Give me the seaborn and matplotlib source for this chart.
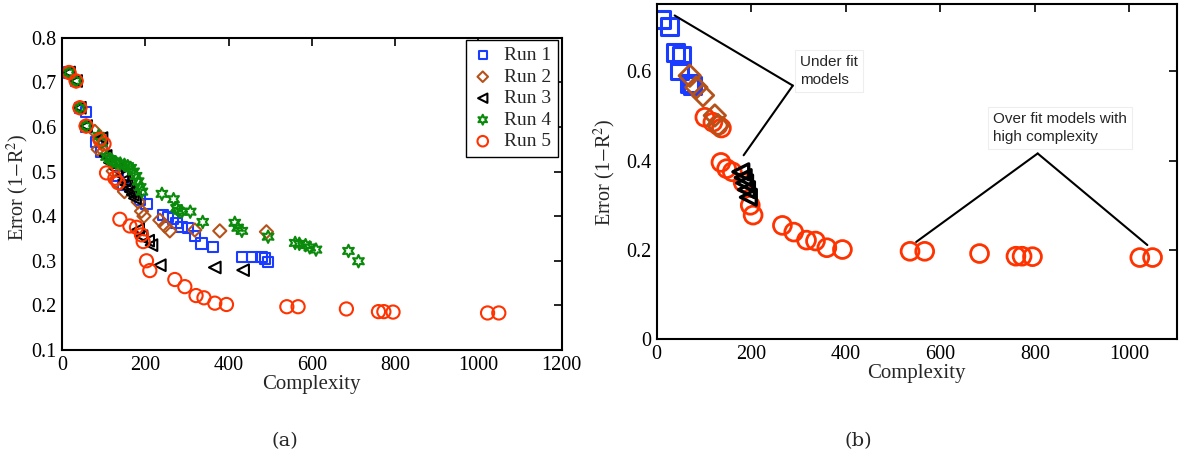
import numpy as np
import pandas as pd
import matplotlib
matplotlib.use("Agg")
import matplotlib.pyplot as plt
import seaborn as sns
from matplotlib.ticker import FormatStrFormatter, FuncFormatter

sns.set_theme(style="white")
plt.rcParams['font.family'] = ['Liberation Serif', 'DejaVu Serif']
plt.rcParams['mathtext.fontset'] = 'stix'

# ---------------- data: panel (a) ----------------
run1_x = [17, 34, 43, 58, 57, 83, 95, 135, 147, 187, 203, 243, 255, 267, 275, 287, 303, 319, 335, 363, 433, 457, 479, 487, 495]
run1_y = [0.722, 0.703, 0.643, 0.634, 0.600, 0.567, 0.545, 0.49, 0.47, 0.436, 0.427, 0.402, 0.398, 0.395, 0.385,
          0.376, 0.373, 0.356, 0.339, 0.331, 0.309, 0.309, 0.309, 0.305, 0.298]

run2_x = [17, 34, 43, 58, 79, 87, 91, 100, 123, 130, 150, 183, 191, 197, 235, 247, 259, 319, 379, 491]
run2_y = [0.722, 0.703, 0.643, 0.602, 0.59, 0.55, 0.57, 0.546, 0.501, 0.479, 0.455, 0.432, 0.411, 0.40, 0.391,
          0.378, 0.367, 0.369, 0.367, 0.365]

run3_x = [17, 34, 43, 58, 95, 105, 115, 130, 145, 150, 155, 160, 165, 170, 175, 183, 191, 207, 215, 235, 367, 435]
run3_y = [0.722, 0.703, 0.643, 0.602, 0.575, 0.535, 0.52, 0.505, 0.49, 0.48, 0.47, 0.462, 0.455, 0.448, 0.44,
          0.37, 0.355, 0.345, 0.335, 0.29, 0.285, 0.279]

run4_x = [17, 34, 43, 58, 88, 95, 107, 115, 122, 130, 140, 150, 158, 165, 172, 178, 183, 188, 192, 240, 268, 275,
          280, 288, 308, 338, 415, 422, 432, 495, 560, 570, 585, 595, 610, 688, 712]
run4_y = [0.722, 0.703, 0.643, 0.602, 0.58, 0.565, 0.533, 0.528, 0.523, 0.52, 0.518, 0.515, 0.512, 0.508, 0.50,
          0.49, 0.478, 0.465, 0.455, 0.450, 0.438, 0.418, 0.412, 0.41, 0.41, 0.387, 0.385, 0.374, 0.367, 0.354,
          0.34, 0.338, 0.335, 0.33, 0.325, 0.322, 0.299]

run5_x = [17, 34, 43, 58, 91, 101, 107, 127, 135, 139, 163, 179, 191, 195, 203, 211, 271, 295, 322, 341, 367, 395,
          540, 567, 683, 760, 773, 795, 1022, 1049]
run5_y = [0.722, 0.703, 0.643, 0.602, 0.572, 0.562, 0.497, 0.485, 0.475, 0.393, 0.378, 0.375, 0.358, 0.343, 0.300,
          0.278, 0.258, 0.242, 0.222, 0.217, 0.205, 0.202, 0.197, 0.197, 0.192, 0.186, 0.186, 0.185, 0.183, 0.183]

run_labels = ["Run 1", "Run 2", "Run 3", "Run 4", "Run 5"]

# ---------------- data: panel (b) ----------------
b_blue_x = [11, 28, 39, 53, 49, 70, 76]
b_blue_y = [0.717, 0.700, 0.643, 0.635, 0.602, 0.573, 0.568]
b_brown_x = [70, 84, 98, 123, 130]
b_brown_y = [0.59, 0.564, 0.546, 0.501, 0.479]
b_black_x = [178, 183, 186, 190, 194]
b_black_y = [0.375, 0.362, 0.35, 0.335, 0.318]
b_red_x = [102, 119, 130, 137, 136, 148, 160, 183, 198, 204, 266, 290, 317, 336, 360, 393,
           536, 567, 683, 760, 773, 795, 1022, 1049]
b_red_y = [0.497, 0.486, 0.479, 0.473, 0.396, 0.382, 0.375, 0.351, 0.300, 0.278, 0.255, 0.240, 0.222, 0.220,
           0.205, 0.201, 0.197, 0.197, 0.192, 0.186, 0.186, 0.185, 0.183, 0.183]

xticks_a = [0, 200, 400, 600, 800, 1000, 1200]
yticks_a = [0.1, 0.2, 0.3, 0.4, 0.5, 0.6, 0.7, 0.8]
xticks_b = [0, 200, 400, 600, 800, 1000]
yticks_b = [0, 0.2, 0.4, 0.6]

# ---------------- styling ----------------
C_BLUE = '#1a3cff'
C_BROWN = '#b5521a'
C_BLACK = '#000000'
C_GREEN = '#0a8a0a'
C_RED = '#ff3300'
hexagram = (6, 1, 0)

fig = plt.figure(figsize=(11.87, 4.61), dpi=100)
axA = fig.add_axes([0.0522, 0.2408, 0.4210, 0.6774])
axB = fig.add_axes([0.5532, 0.2640, 0.4381, 0.7267])


def open_scatter(ax, x, y, marker, color, size, lw, label=None):
    sns.scatterplot(x=x, y=y, marker=marker, s=size, color=color, linewidth=lw, ax=ax, label=label, legend=False)
    coll = ax.collections[-1]
    coll.set_facecolor('none')
    coll.set_edgecolor(color)
    coll.set_linewidth(lw)
    return coll


runs = [
    (run1_x, run1_y, 's', C_BLUE, 55),
    (run2_x, run2_y, 'D', C_BROWN, 45),
    (run3_x, run3_y, '<', C_BLACK, 70),
    (run4_x, run4_y, hexagram, C_GREEN, 80),
    (run5_x, run5_y, 'o', C_RED, 90),
]
handles = []
for (x, y, m, c, s), lab in zip(runs, run_labels):
    h = open_scatter(axA, x, y, m, c, s, 1.5, label=lab)
    handles.append(h)

axA.set_xlim(0, 1200)
axA.set_ylim(0.1, 0.8)
axA.set_xticks(xticks_a)
axA.set_yticks(yticks_a)
axA.yaxis.set_major_formatter(FormatStrFormatter('%.1f'))
axA.set_xlabel('Complexity', fontsize=15, labelpad=0)
axA.set_ylabel(r'Error (1$-$R$^2$)', fontsize=14.5, labelpad=2)
axA.yaxis.set_label_coords(-0.062, 0.52)
leg = axA.legend(handles=handles, labels=run_labels, loc='upper right', bbox_to_anchor=(0.993, 0.993),
                 borderaxespad=0, fontsize=14, frameon=True, fancybox=False, framealpha=1,
                 edgecolor='black', handlelength=1.0, handletextpad=0.6, labelspacing=0.2,
                 borderpad=0.35, scatterpoints=1, markerscale=0.8)
leg.get_frame().set_linewidth(1.0)

# panel (b)
open_scatter(axB, b_red_x, b_red_y, 'o', C_RED, 165, 2.0)
open_scatter(axB, b_black_x, b_black_y, '<', C_BLACK, 130, 2.4)
open_scatter(axB, b_blue_x, b_blue_y, 's', C_BLUE, 150, 2.2)
open_scatter(axB, b_brown_x, b_brown_y, 'D', C_BROWN, 120, 2.0)

axB.set_xlim(0, 1100)
axB.set_ylim(0, 0.75)
axB.set_xticks(xticks_b)
axB.set_yticks(yticks_b)
axB.yaxis.set_major_formatter(FuncFormatter(lambda v, p: '0' if v == 0 else f'{v:.1f}'))
axB.set_xlabel('Complexity', fontsize=15, labelpad=0)
axB.set_ylabel(r'Error (1$-$R$^2$)', fontsize=14.5, labelpad=2)
axB.yaxis.set_label_coords(-0.075, 0.5)

sans = ['Liberation Sans', 'DejaVu Sans']
apex1 = (288, 0.568)
axB.annotate('', xy=(38, 0.725), xytext=apex1, arrowprops=dict(arrowstyle='-', lw=1.5, color='black',
                                                                 shrinkA=0, shrinkB=0))
axB.annotate('', xy=(184, 0.412), xytext=apex1, arrowprops=dict(arrowstyle='-', lw=1.5, color='black',
                                                                  shrinkA=0, shrinkB=0))
axB.text(303, 0.636, 'Under fit\nmodels', ha='left', va='top', fontsize=11, family=sans,
         linespacing=1.3, bbox=dict(boxstyle='square,pad=0.35', fc='white', ec='#eeeeee', lw=0.8))

apex2 = (806, 0.416)
axB.annotate('', xy=(549, 0.218), xytext=apex2, arrowprops=dict(arrowstyle='-', lw=1.5, color='black',
                                                                  shrinkA=0, shrinkB=0))
axB.annotate('', xy=(1038, 0.211), xytext=apex2, arrowprops=dict(arrowstyle='-', lw=1.5, color='black',
                                                                   shrinkA=0, shrinkB=0))
axB.text(712, 0.508, 'Over fit models with\nhigh complexity', ha='left', va='top', fontsize=11, family=sans,
         linespacing=1.3, bbox=dict(boxstyle='square,pad=0.35', fc='white', ec='#eeeeee', lw=0.8))

for ax in (axA, axB):
    for sp in ax.spines.values():
        sp.set_visible(True)
        sp.set_color('black')
        sp.set_linewidth(1.5)
    ax.tick_params(direction='in', length=6, width=1.2, top=True, right=True, labelsize=14.5,
                   colors='black', pad=4)
    ax.grid(False)
    ax.set_facecolor('white')

fig.text(285 / 1187, 1 - 441 / 461, '(a)', ha='center', va='center', fontsize=14, family=['DejaVu Serif'])
fig.text(858 / 1187, 1 - 441 / 461, '(b)', ha='center', va='center', fontsize=14, family=['DejaVu Serif'])

fig.savefig('out.png', dpi=100, facecolor='white')
